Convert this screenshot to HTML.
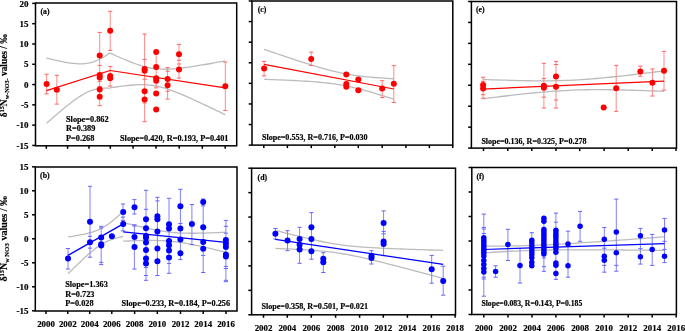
<!DOCTYPE html>
<html><head><meta charset="utf-8"><style>
html,body{margin:0;padding:0;background:#fff;}
body{width:685px;height:331px;overflow:hidden;}
svg{display:block;}
text{font-family:"Liberation Serif", serif;fill:#000;stroke:#000;stroke-width:0.18px;}
svg{will-change:transform;}
</style></head><body>
<svg width="685" height="331" viewBox="0 0 685 331">
<rect width="685" height="331" fill="#fff"/>
<rect x="35.5" y="3.0" width="201.2" height="142.8" fill="none" stroke="#000" stroke-width="1.5"/>
<line x1="32.2" y1="3.4" x2="35.5" y2="3.4" stroke="#000" stroke-width="1.5"/>
<line x1="32.2" y1="23.689999999999998" x2="35.5" y2="23.689999999999998" stroke="#000" stroke-width="1.5"/>
<line x1="32.2" y1="43.98" x2="35.5" y2="43.98" stroke="#000" stroke-width="1.5"/>
<line x1="32.2" y1="64.27" x2="35.5" y2="64.27" stroke="#000" stroke-width="1.5"/>
<line x1="32.2" y1="84.56" x2="35.5" y2="84.56" stroke="#000" stroke-width="1.5"/>
<line x1="32.2" y1="104.85" x2="35.5" y2="104.85" stroke="#000" stroke-width="1.5"/>
<line x1="32.2" y1="125.14" x2="35.5" y2="125.14" stroke="#000" stroke-width="1.5"/>
<line x1="32.2" y1="145.43" x2="35.5" y2="145.43" stroke="#000" stroke-width="1.5"/>
<line x1="46.3" y1="145.8" x2="46.3" y2="148.8" stroke="#000" stroke-width="1.5"/>
<line x1="67.6" y1="145.8" x2="67.6" y2="148.8" stroke="#000" stroke-width="1.5"/>
<line x1="89.0" y1="145.8" x2="89.0" y2="148.8" stroke="#000" stroke-width="1.5"/>
<line x1="110.3" y1="145.8" x2="110.3" y2="148.8" stroke="#000" stroke-width="1.5"/>
<line x1="133.1" y1="145.8" x2="133.1" y2="148.8" stroke="#000" stroke-width="1.5"/>
<line x1="156.0" y1="145.8" x2="156.0" y2="148.8" stroke="#000" stroke-width="1.5"/>
<line x1="179.2" y1="145.8" x2="179.2" y2="148.8" stroke="#000" stroke-width="1.5"/>
<line x1="202.3" y1="145.8" x2="202.3" y2="148.8" stroke="#000" stroke-width="1.5"/>
<line x1="225.2" y1="145.8" x2="225.2" y2="148.8" stroke="#000" stroke-width="1.5"/>
<text x="28.5" y="6.5" font-size="9" text-anchor="end" font-weight="bold" >20</text>
<text x="28.5" y="26.79" font-size="9" text-anchor="end" font-weight="bold" >15</text>
<text x="28.5" y="47.08" font-size="9" text-anchor="end" font-weight="bold" >10</text>
<text x="28.5" y="67.36999999999999" font-size="9" text-anchor="end" font-weight="bold" >5</text>
<text x="28.5" y="87.66" font-size="9" text-anchor="end" font-weight="bold" >0</text>
<text x="28.5" y="107.94999999999999" font-size="9" text-anchor="end" font-weight="bold" >-5</text>
<text x="28.5" y="128.24" font-size="9" text-anchor="end" font-weight="bold" >-10</text>
<text x="28.5" y="148.53" font-size="9" text-anchor="end" font-weight="bold" >-15</text>
<text x="40.5" y="13.9" font-size="7.8" text-anchor="start" font-weight="bold" >(a)</text>
<polyline points="46.50,58.04 48.09,58.44 49.68,58.84 51.27,59.23 52.86,59.61 54.45,59.99 56.04,60.36 57.63,60.71 59.22,61.06 60.81,61.39 62.40,61.71 63.99,62.02 65.58,62.31 67.17,62.58 68.76,62.83 70.35,63.06 71.94,63.27 73.53,63.44 75.12,63.59 76.71,63.70 78.30,63.78 79.89,63.81 81.48,63.80 83.07,63.73 84.66,63.61 86.25,63.43 87.84,63.19 89.43,62.88 91.02,62.50 92.61,62.05 94.20,61.53 95.79,60.93 97.38,60.27 98.97,59.53 100.56,58.73 102.15,57.87 103.74,56.95 105.33,55.98 106.92,54.96 108.51,53.89 110.10,52.79" fill="none" stroke="#bcbcbc" stroke-width="1.3"/>
<polyline points="46.50,123.36 48.09,121.95 49.68,120.54 51.27,119.14 52.86,117.75 54.45,116.36 56.04,114.98 57.63,113.62 59.22,112.26 60.81,110.92 62.40,109.59 63.99,108.27 65.58,106.97 67.17,105.69 68.76,104.43 70.35,103.19 71.94,101.97 73.53,100.79 75.12,99.63 76.71,98.51 78.30,97.42 79.89,96.38 81.48,95.38 83.07,94.44 84.66,93.55 86.25,92.72 87.84,91.95 89.43,91.25 91.02,90.62 92.61,90.06 94.20,89.57 95.79,89.16 97.38,88.81 98.97,88.54 100.56,88.33 102.15,88.18 103.74,88.09 105.33,88.05 106.92,88.06 108.51,88.12 110.10,88.21" fill="none" stroke="#bcbcbc" stroke-width="1.3"/>
<polyline points="110.10,53.11 112.98,54.43 115.86,55.72 118.74,57.00 121.62,58.26 124.50,59.48 127.38,60.68 130.26,61.83 133.14,62.94 136.02,63.99 138.90,64.97 141.78,65.88 144.66,66.70 147.54,67.41 150.42,68.01 153.30,68.49 156.18,68.85 159.06,69.09 161.94,69.22 164.82,69.25 167.70,69.19 170.58,69.06 173.46,68.86 176.34,68.61 179.22,68.31 182.10,67.98 184.98,67.61 187.86,67.22 190.74,66.80 193.62,66.37 196.50,65.91 199.38,65.45 202.26,64.97 205.14,64.49 208.02,63.99 210.90,63.49 213.78,62.97 216.66,62.46 219.54,61.94 222.42,61.41 225.30,60.88" fill="none" stroke="#bcbcbc" stroke-width="1.3"/>
<polyline points="110.10,87.89 112.98,87.44 115.86,87.01 118.74,86.60 121.62,86.21 124.50,85.85 127.38,85.52 130.26,85.23 133.14,84.99 136.02,84.80 138.90,84.68 141.78,84.64 144.66,84.69 147.54,84.84 150.42,85.11 153.30,85.49 156.18,86.00 159.06,86.62 161.94,87.36 164.82,88.20 167.70,89.12 170.58,90.12 173.46,91.18 176.34,92.30 179.22,93.47 182.10,94.67 184.98,95.90 187.86,97.16 190.74,98.44 193.62,99.74 196.50,101.06 199.38,102.39 202.26,103.73 205.14,105.08 208.02,106.45 210.90,107.82 213.78,109.19 216.66,110.58 219.54,111.96 222.42,113.36 225.30,114.75" fill="none" stroke="#bcbcbc" stroke-width="1.3"/>
<line x1="46.6" y1="74.2" x2="46.6" y2="93.9" stroke="#ff8a8a" stroke-width="1.0"/>
<line x1="44.5" y1="74.2" x2="48.7" y2="74.2" stroke="#ff6464" stroke-width="1.0"/>
<line x1="44.5" y1="93.9" x2="48.7" y2="93.9" stroke="#ff6464" stroke-width="1.0"/>
<line x1="56.8" y1="75.3" x2="56.8" y2="104.1" stroke="#ff8a8a" stroke-width="1.0"/>
<line x1="54.699999999999996" y1="75.3" x2="58.9" y2="75.3" stroke="#ff6464" stroke-width="1.0"/>
<line x1="54.699999999999996" y1="104.1" x2="58.9" y2="104.1" stroke="#ff6464" stroke-width="1.0"/>
<line x1="99.7" y1="32.4" x2="99.7" y2="105.6" stroke="#ff8a8a" stroke-width="1.0"/>
<line x1="97.60000000000001" y1="32.4" x2="101.8" y2="32.4" stroke="#ff6464" stroke-width="1.0"/>
<line x1="97.60000000000001" y1="65.4" x2="101.8" y2="65.4" stroke="#ff6464" stroke-width="1.0"/>
<line x1="97.60000000000001" y1="81.3" x2="101.8" y2="81.3" stroke="#ff6464" stroke-width="1.0"/>
<line x1="97.60000000000001" y1="86.5" x2="101.8" y2="86.5" stroke="#ff6464" stroke-width="1.0"/>
<line x1="97.60000000000001" y1="105.7" x2="101.8" y2="105.7" stroke="#ff6464" stroke-width="1.0"/>
<line x1="110.2" y1="11.3" x2="110.2" y2="50.4" stroke="#ff8a8a" stroke-width="1.0"/>
<line x1="110.2" y1="66.4" x2="110.2" y2="86.1" stroke="#ff8a8a" stroke-width="1.0"/>
<line x1="108.10000000000001" y1="11.3" x2="112.3" y2="11.3" stroke="#ff6464" stroke-width="1.0"/>
<line x1="108.10000000000001" y1="50.4" x2="112.3" y2="50.4" stroke="#ff6464" stroke-width="1.0"/>
<line x1="108.10000000000001" y1="66.4" x2="112.3" y2="66.4" stroke="#ff6464" stroke-width="1.0"/>
<line x1="108.10000000000001" y1="86.1" x2="112.3" y2="86.1" stroke="#ff6464" stroke-width="1.0"/>
<line x1="144.6" y1="34.1" x2="144.6" y2="121.7" stroke="#ff8a8a" stroke-width="1.0"/>
<line x1="142.5" y1="34.1" x2="146.7" y2="34.1" stroke="#ff6464" stroke-width="1.0"/>
<line x1="142.5" y1="59.4" x2="146.7" y2="59.4" stroke="#ff6464" stroke-width="1.0"/>
<line x1="142.5" y1="79.2" x2="146.7" y2="79.2" stroke="#ff6464" stroke-width="1.0"/>
<line x1="142.5" y1="103" x2="146.7" y2="103" stroke="#ff6464" stroke-width="1.0"/>
<line x1="142.5" y1="121.7" x2="146.7" y2="121.7" stroke="#ff6464" stroke-width="1.0"/>
<line x1="156.2" y1="52.2" x2="156.2" y2="87.9" stroke="#ff8a8a" stroke-width="1.0"/>
<line x1="154.1" y1="87.9" x2="158.29999999999998" y2="87.9" stroke="#ff6464" stroke-width="1.0"/>
<line x1="167.6" y1="67.6" x2="167.6" y2="99.1" stroke="#ff8a8a" stroke-width="1.0"/>
<line x1="165.5" y1="67.6" x2="169.7" y2="67.6" stroke="#ff6464" stroke-width="1.0"/>
<line x1="165.5" y1="71.2" x2="169.7" y2="71.2" stroke="#ff6464" stroke-width="1.0"/>
<line x1="165.5" y1="91.3" x2="169.7" y2="91.3" stroke="#ff6464" stroke-width="1.0"/>
<line x1="165.5" y1="99.1" x2="169.7" y2="99.1" stroke="#ff6464" stroke-width="1.0"/>
<line x1="179.0" y1="44.4" x2="179.0" y2="78.1" stroke="#ff8a8a" stroke-width="1.0"/>
<line x1="176.9" y1="44.4" x2="181.1" y2="44.4" stroke="#ff6464" stroke-width="1.0"/>
<line x1="176.9" y1="60.3" x2="181.1" y2="60.3" stroke="#ff6464" stroke-width="1.0"/>
<line x1="176.9" y1="64" x2="181.1" y2="64" stroke="#ff6464" stroke-width="1.0"/>
<line x1="176.9" y1="78.1" x2="181.1" y2="78.1" stroke="#ff6464" stroke-width="1.0"/>
<line x1="225.3" y1="62.1" x2="225.3" y2="110.4" stroke="#ff8a8a" stroke-width="1.0"/>
<line x1="223.20000000000002" y1="62.1" x2="227.4" y2="62.1" stroke="#ff6464" stroke-width="1.0"/>
<line x1="223.20000000000002" y1="110.4" x2="227.4" y2="110.4" stroke="#ff6464" stroke-width="1.0"/>
<line x1="46.5" y1="90.7" x2="110.1" y2="70.5" stroke="#ff0000" stroke-width="1.25"/>
<line x1="110.1" y1="70.5" x2="225.2" y2="87.8" stroke="#ff0000" stroke-width="1.25"/>
<circle cx="46.6" cy="84" r="3.0" fill="#ff0000"/>
<circle cx="56.8" cy="89.7" r="3.0" fill="#ff0000"/>
<circle cx="99.7" cy="55.6" r="3.0" fill="#ff0000"/>
<circle cx="99.7" cy="74.9" r="3.0" fill="#ff0000"/>
<circle cx="99.7" cy="77.5" r="3.0" fill="#ff0000"/>
<circle cx="99.7" cy="89.5" r="3.0" fill="#ff0000"/>
<circle cx="99.7" cy="96.8" r="3.0" fill="#ff0000"/>
<circle cx="110.2" cy="30.7" r="3.0" fill="#ff0000"/>
<circle cx="110.2" cy="76.1" r="3.0" fill="#ff0000"/>
<circle cx="110.2" cy="78.2" r="3.0" fill="#ff0000"/>
<circle cx="144.6" cy="69.0" r="3.0" fill="#ff0000"/>
<circle cx="144.6" cy="70.8" r="3.0" fill="#ff0000"/>
<circle cx="144.6" cy="91.3" r="3.0" fill="#ff0000"/>
<circle cx="144.6" cy="99.6" r="3.0" fill="#ff0000"/>
<circle cx="156.2" cy="51.9" r="3.0" fill="#ff0000"/>
<circle cx="156.2" cy="66.9" r="3.0" fill="#ff0000"/>
<circle cx="156.2" cy="78.3" r="3.0" fill="#ff0000"/>
<circle cx="156.2" cy="80.8" r="3.0" fill="#ff0000"/>
<circle cx="156.2" cy="93.6" r="3.0" fill="#ff0000"/>
<circle cx="156.2" cy="109.4" r="3.0" fill="#ff0000"/>
<circle cx="167.6" cy="79" r="3.0" fill="#ff0000"/>
<circle cx="167.6" cy="85.3" r="3.0" fill="#ff0000"/>
<circle cx="179.0" cy="54.3" r="3.0" fill="#ff0000"/>
<circle cx="179.0" cy="69.4" r="3.0" fill="#ff0000"/>
<circle cx="225.3" cy="86.2" r="3.0" fill="#ff0000"/>
<text x="66.0" y="121.7" font-size="8.27" text-anchor="start" font-weight="bold" >Slope=0.862</text>
<text x="66.0" y="131.3" font-size="8.27" text-anchor="start" font-weight="bold" >R=0.389</text>
<text x="66.0" y="141.0" font-size="8.27" text-anchor="start" font-weight="bold" >P=0.268</text>
<text x="120.0" y="141.1" font-size="8.27" text-anchor="start" font-weight="bold" >Slope=0.420, R=0.193, P=0.401</text>
<rect x="35.3" y="167.0" width="201.7" height="144.0" fill="none" stroke="#000" stroke-width="1.5"/>
<line x1="31.999999999999996" y1="166.8" x2="35.3" y2="166.8" stroke="#000" stroke-width="1.5"/>
<line x1="31.999999999999996" y1="190.8" x2="35.3" y2="190.8" stroke="#000" stroke-width="1.5"/>
<line x1="31.999999999999996" y1="214.8" x2="35.3" y2="214.8" stroke="#000" stroke-width="1.5"/>
<line x1="31.999999999999996" y1="238.8" x2="35.3" y2="238.8" stroke="#000" stroke-width="1.5"/>
<line x1="31.999999999999996" y1="262.8" x2="35.3" y2="262.8" stroke="#000" stroke-width="1.5"/>
<line x1="31.999999999999996" y1="286.8" x2="35.3" y2="286.8" stroke="#000" stroke-width="1.5"/>
<line x1="31.999999999999996" y1="310.8" x2="35.3" y2="310.8" stroke="#000" stroke-width="1.5"/>
<line x1="46.0" y1="311.0" x2="46.0" y2="314.0" stroke="#000" stroke-width="1.5"/>
<line x1="67.8" y1="311.0" x2="67.8" y2="314.0" stroke="#000" stroke-width="1.5"/>
<line x1="89.7" y1="311.0" x2="89.7" y2="314.0" stroke="#000" stroke-width="1.5"/>
<line x1="111.8" y1="311.0" x2="111.8" y2="314.0" stroke="#000" stroke-width="1.5"/>
<line x1="134.6" y1="311.0" x2="134.6" y2="314.0" stroke="#000" stroke-width="1.5"/>
<line x1="157.3" y1="311.0" x2="157.3" y2="314.0" stroke="#000" stroke-width="1.5"/>
<line x1="180.5" y1="311.0" x2="180.5" y2="314.0" stroke="#000" stroke-width="1.5"/>
<line x1="203.2" y1="311.0" x2="203.2" y2="314.0" stroke="#000" stroke-width="1.5"/>
<line x1="226.0" y1="311.0" x2="226.0" y2="314.0" stroke="#000" stroke-width="1.5"/>
<text x="28.5" y="169.9" font-size="9" text-anchor="end" font-weight="bold" >15</text>
<text x="28.5" y="193.9" font-size="9" text-anchor="end" font-weight="bold" >10</text>
<text x="28.5" y="217.9" font-size="9" text-anchor="end" font-weight="bold" >5</text>
<text x="28.5" y="241.9" font-size="9" text-anchor="end" font-weight="bold" >0</text>
<text x="28.5" y="265.90000000000003" font-size="9" text-anchor="end" font-weight="bold" >-5</text>
<text x="28.5" y="289.90000000000003" font-size="9" text-anchor="end" font-weight="bold" >-10</text>
<text x="28.5" y="313.90000000000003" font-size="9" text-anchor="end" font-weight="bold" >-15</text>
<text x="46.0" y="326.6" font-size="8.9" text-anchor="middle" font-weight="bold" >2000</text>
<text x="67.8" y="326.6" font-size="8.9" text-anchor="middle" font-weight="bold" >2002</text>
<text x="89.7" y="326.6" font-size="8.9" text-anchor="middle" font-weight="bold" >2004</text>
<text x="111.8" y="326.6" font-size="8.9" text-anchor="middle" font-weight="bold" >2006</text>
<text x="134.6" y="326.6" font-size="8.9" text-anchor="middle" font-weight="bold" >2008</text>
<text x="157.3" y="326.6" font-size="8.9" text-anchor="middle" font-weight="bold" >2010</text>
<text x="180.5" y="326.6" font-size="8.9" text-anchor="middle" font-weight="bold" >2012</text>
<text x="203.2" y="326.6" font-size="8.9" text-anchor="middle" font-weight="bold" >2014</text>
<text x="226.0" y="326.6" font-size="8.9" text-anchor="middle" font-weight="bold" >2016</text>
<text x="40.0" y="178.3" font-size="7.9" text-anchor="start" font-weight="bold" >(b)</text>
<polyline points="68.00,236.92 69.38,236.73 70.76,236.53 72.14,236.32 73.52,236.11 74.90,235.89 76.28,235.66 77.66,235.43 79.04,235.18 80.42,234.93 81.80,234.67 83.18,234.39 84.56,234.09 85.94,233.78 87.32,233.45 88.70,233.10 90.08,232.73 91.46,232.33 92.84,231.90 94.22,231.43 95.60,230.92 96.98,230.38 98.36,229.79 99.74,229.15 101.12,228.46 102.50,227.71 103.88,226.91 105.26,226.06 106.64,225.15 108.02,224.20 109.40,223.19 110.78,222.15 112.16,221.06 113.54,219.94 114.92,218.78 116.30,217.60 117.68,216.39 119.06,215.15 120.44,213.90 121.82,212.62 123.20,211.34" fill="none" stroke="#bcbcbc" stroke-width="1.3"/>
<polyline points="68.00,273.88 69.38,272.50 70.76,271.12 72.14,269.75 73.52,268.39 74.90,267.04 76.28,265.69 77.66,264.35 79.04,263.02 80.42,261.69 81.80,260.38 83.18,259.09 84.56,257.81 85.94,256.54 87.32,255.30 88.70,254.07 90.08,252.87 91.46,251.70 92.84,250.55 94.22,249.45 95.60,248.38 96.98,247.35 98.36,246.36 99.74,245.43 101.12,244.54 102.50,243.71 103.88,242.94 105.26,242.22 106.64,241.55 108.02,240.93 109.40,240.36 110.78,239.83 112.16,239.34 113.54,238.89 114.92,238.47 116.30,238.08 117.68,237.71 119.06,237.37 120.44,237.05 121.82,236.75 123.20,236.46" fill="none" stroke="#bcbcbc" stroke-width="1.3"/>
<polyline points="123.20,222.58 125.77,223.21 128.34,223.84 130.90,224.46 133.47,225.08 136.04,225.69 138.61,226.29 141.17,226.87 143.74,227.45 146.31,228.02 148.88,228.57 151.44,229.10 154.01,229.61 156.58,230.09 159.15,230.55 161.71,230.98 164.28,231.38 166.85,231.74 169.42,232.06 171.98,232.34 174.55,232.58 177.12,232.78 179.69,232.94 182.25,233.06 184.82,233.15 187.39,233.22 189.96,233.25 192.52,233.26 195.09,233.25 197.66,233.22 200.23,233.18 202.79,233.12 205.36,233.05 207.93,232.97 210.50,232.88 213.06,232.79 215.63,232.68 218.20,232.58 220.76,232.46 223.33,232.34 225.90,232.22" fill="none" stroke="#bcbcbc" stroke-width="1.3"/>
<polyline points="123.20,241.22 125.77,241.11 128.34,241.00 130.90,240.90 133.47,240.80 136.04,240.71 138.61,240.63 141.17,240.57 143.74,240.51 146.31,240.46 148.88,240.43 151.44,240.42 154.01,240.43 156.58,240.47 159.15,240.53 161.71,240.62 164.28,240.74 166.85,240.90 169.42,241.10 171.98,241.34 174.55,241.62 177.12,241.94 179.69,242.30 182.25,242.70 184.82,243.13 187.39,243.58 189.96,244.07 192.52,244.58 195.09,245.11 197.66,245.66 200.23,246.22 202.79,246.80 205.36,247.39 207.93,247.99 210.50,248.60 213.06,249.21 215.63,249.84 218.20,250.46 220.76,251.10 223.33,251.74 225.90,252.38" fill="none" stroke="#bcbcbc" stroke-width="1.3"/>
<line x1="68" y1="248.5" x2="68" y2="269" stroke="#8080ff" stroke-width="1.0"/>
<line x1="65.9" y1="248.5" x2="70.1" y2="248.5" stroke="#6464ff" stroke-width="1.0"/>
<line x1="65.9" y1="269" x2="70.1" y2="269" stroke="#6464ff" stroke-width="1.0"/>
<line x1="90.0" y1="186.3" x2="90.0" y2="257.2" stroke="#8080ff" stroke-width="1.0"/>
<line x1="87.9" y1="186.3" x2="92.1" y2="186.3" stroke="#6464ff" stroke-width="1.0"/>
<line x1="87.9" y1="236.3" x2="92.1" y2="236.3" stroke="#6464ff" stroke-width="1.0"/>
<line x1="87.9" y1="248.1" x2="92.1" y2="248.1" stroke="#6464ff" stroke-width="1.0"/>
<line x1="87.9" y1="257.2" x2="92.1" y2="257.2" stroke="#6464ff" stroke-width="1.0"/>
<line x1="101.2" y1="226.3" x2="101.2" y2="264.6" stroke="#8080ff" stroke-width="1.0"/>
<line x1="99.10000000000001" y1="226.3" x2="103.3" y2="226.3" stroke="#6464ff" stroke-width="1.0"/>
<line x1="99.10000000000001" y1="228" x2="103.3" y2="228" stroke="#6464ff" stroke-width="1.0"/>
<line x1="99.10000000000001" y1="262.3" x2="103.3" y2="262.3" stroke="#6464ff" stroke-width="1.0"/>
<line x1="99.10000000000001" y1="264.6" x2="103.3" y2="264.6" stroke="#6464ff" stroke-width="1.0"/>
<line x1="123.0" y1="204.0" x2="123.0" y2="230.9" stroke="#8080ff" stroke-width="1.0"/>
<line x1="120.9" y1="204.0" x2="125.1" y2="204.0" stroke="#6464ff" stroke-width="1.0"/>
<line x1="120.9" y1="217.1" x2="125.1" y2="217.1" stroke="#6464ff" stroke-width="1.0"/>
<line x1="120.9" y1="220.4" x2="125.1" y2="220.4" stroke="#6464ff" stroke-width="1.0"/>
<line x1="120.9" y1="230.9" x2="125.1" y2="230.9" stroke="#6464ff" stroke-width="1.0"/>
<line x1="134.4" y1="199.6" x2="134.4" y2="214.0" stroke="#8080ff" stroke-width="1.0"/>
<line x1="134.4" y1="224.8" x2="134.4" y2="269.1" stroke="#8080ff" stroke-width="1.0"/>
<line x1="132.3" y1="199.6" x2="136.5" y2="199.6" stroke="#6464ff" stroke-width="1.0"/>
<line x1="132.3" y1="214.0" x2="136.5" y2="214.0" stroke="#6464ff" stroke-width="1.0"/>
<line x1="132.3" y1="224.8" x2="136.5" y2="224.8" stroke="#6464ff" stroke-width="1.0"/>
<line x1="132.3" y1="226.0" x2="136.5" y2="226.0" stroke="#6464ff" stroke-width="1.0"/>
<line x1="132.3" y1="269.1" x2="136.5" y2="269.1" stroke="#6464ff" stroke-width="1.0"/>
<line x1="146.0" y1="190.3" x2="146.0" y2="280.3" stroke="#8080ff" stroke-width="1.0"/>
<line x1="143.9" y1="190.3" x2="148.1" y2="190.3" stroke="#6464ff" stroke-width="1.0"/>
<line x1="143.9" y1="209.3" x2="148.1" y2="209.3" stroke="#6464ff" stroke-width="1.0"/>
<line x1="143.9" y1="267.6" x2="148.1" y2="267.6" stroke="#6464ff" stroke-width="1.0"/>
<line x1="143.9" y1="275.5" x2="148.1" y2="275.5" stroke="#6464ff" stroke-width="1.0"/>
<line x1="143.9" y1="280.3" x2="148.1" y2="280.3" stroke="#6464ff" stroke-width="1.0"/>
<line x1="157.4" y1="197.3" x2="157.4" y2="275.5" stroke="#8080ff" stroke-width="1.0"/>
<line x1="155.3" y1="197.3" x2="159.5" y2="197.3" stroke="#6464ff" stroke-width="1.0"/>
<line x1="155.3" y1="200.9" x2="159.5" y2="200.9" stroke="#6464ff" stroke-width="1.0"/>
<line x1="155.3" y1="275.5" x2="159.5" y2="275.5" stroke="#6464ff" stroke-width="1.0"/>
<line x1="169.0" y1="198.3" x2="169.0" y2="273.3" stroke="#8080ff" stroke-width="1.0"/>
<line x1="166.9" y1="198.3" x2="171.1" y2="198.3" stroke="#6464ff" stroke-width="1.0"/>
<line x1="166.9" y1="263.4" x2="171.1" y2="263.4" stroke="#6464ff" stroke-width="1.0"/>
<line x1="166.9" y1="273.3" x2="171.1" y2="273.3" stroke="#6464ff" stroke-width="1.0"/>
<line x1="180.4" y1="189.3" x2="180.4" y2="259.6" stroke="#8080ff" stroke-width="1.0"/>
<line x1="178.3" y1="189.3" x2="182.5" y2="189.3" stroke="#6464ff" stroke-width="1.0"/>
<line x1="178.3" y1="223.5" x2="182.5" y2="223.5" stroke="#6464ff" stroke-width="1.0"/>
<line x1="178.3" y1="259.6" x2="182.5" y2="259.6" stroke="#6464ff" stroke-width="1.0"/>
<line x1="191.9" y1="204.5" x2="191.9" y2="244.6" stroke="#8080ff" stroke-width="1.0"/>
<line x1="189.8" y1="204.5" x2="194.0" y2="204.5" stroke="#6464ff" stroke-width="1.0"/>
<line x1="189.8" y1="244.6" x2="194.0" y2="244.6" stroke="#6464ff" stroke-width="1.0"/>
<line x1="203.2" y1="199.0" x2="203.2" y2="272.5" stroke="#8080ff" stroke-width="1.0"/>
<line x1="201.1" y1="199.0" x2="205.29999999999998" y2="199.0" stroke="#6464ff" stroke-width="1.0"/>
<line x1="201.1" y1="205.9" x2="205.29999999999998" y2="205.9" stroke="#6464ff" stroke-width="1.0"/>
<line x1="201.1" y1="255.4" x2="205.29999999999998" y2="255.4" stroke="#6464ff" stroke-width="1.0"/>
<line x1="201.1" y1="272.5" x2="205.29999999999998" y2="272.5" stroke="#6464ff" stroke-width="1.0"/>
<line x1="225.9" y1="220.4" x2="225.9" y2="281.7" stroke="#8080ff" stroke-width="1.0"/>
<line x1="223.8" y1="220.4" x2="228.0" y2="220.4" stroke="#6464ff" stroke-width="1.0"/>
<line x1="223.8" y1="226.3" x2="228.0" y2="226.3" stroke="#6464ff" stroke-width="1.0"/>
<line x1="223.8" y1="233.2" x2="228.0" y2="233.2" stroke="#6464ff" stroke-width="1.0"/>
<line x1="223.8" y1="266.4" x2="228.0" y2="266.4" stroke="#6464ff" stroke-width="1.0"/>
<line x1="223.8" y1="268.5" x2="228.0" y2="268.5" stroke="#6464ff" stroke-width="1.0"/>
<line x1="223.8" y1="280.3" x2="228.0" y2="280.3" stroke="#6464ff" stroke-width="1.0"/>
<line x1="223.8" y1="281.7" x2="228.0" y2="281.7" stroke="#6464ff" stroke-width="1.0"/>
<line x1="68" y1="255.4" x2="123.2" y2="223.9" stroke="#0000ff" stroke-width="1.25"/>
<line x1="123.2" y1="231.9" x2="225.9" y2="242.3" stroke="#0000ff" stroke-width="1.25"/>
<circle cx="68" cy="258.6" r="3.0" fill="#0000ff"/>
<circle cx="90.0" cy="221.7" r="3.0" fill="#0000ff"/>
<circle cx="90.0" cy="242.3" r="3.0" fill="#0000ff"/>
<circle cx="101.2" cy="237.5" r="3.0" fill="#0000ff"/>
<circle cx="101.2" cy="244.3" r="3.0" fill="#0000ff"/>
<circle cx="101.2" cy="245.5" r="3.0" fill="#0000ff"/>
<circle cx="111.9" cy="236.2" r="3.0" fill="#0000ff"/>
<circle cx="123.2" cy="211.9" r="3.0" fill="#0000ff"/>
<circle cx="123.2" cy="223.9" r="3.0" fill="#0000ff"/>
<circle cx="134.5" cy="207.2" r="3.0" fill="#0000ff"/>
<circle cx="134.5" cy="237" r="3.0" fill="#0000ff"/>
<circle cx="134.5" cy="247" r="3.0" fill="#0000ff"/>
<circle cx="146.0" cy="219.2" r="3.0" fill="#0000ff"/>
<circle cx="146.0" cy="228.3" r="3.0" fill="#0000ff"/>
<circle cx="146.0" cy="236" r="3.0" fill="#0000ff"/>
<circle cx="146.0" cy="237.8" r="3.0" fill="#0000ff"/>
<circle cx="146.0" cy="242.5" r="3.0" fill="#0000ff"/>
<circle cx="146.0" cy="250" r="3.0" fill="#0000ff"/>
<circle cx="146.0" cy="258.5" r="3.0" fill="#0000ff"/>
<circle cx="146.0" cy="263.4" r="3.0" fill="#0000ff"/>
<circle cx="157.4" cy="216.3" r="3.0" fill="#0000ff"/>
<circle cx="157.4" cy="219.2" r="3.0" fill="#0000ff"/>
<circle cx="157.4" cy="231.5" r="3.0" fill="#0000ff"/>
<circle cx="157.4" cy="248.4" r="3.0" fill="#0000ff"/>
<circle cx="157.4" cy="261.3" r="3.0" fill="#0000ff"/>
<circle cx="169.0" cy="224.3" r="3.0" fill="#0000ff"/>
<circle cx="169.0" cy="228.4" r="3.0" fill="#0000ff"/>
<circle cx="169.0" cy="241" r="3.0" fill="#0000ff"/>
<circle cx="169.0" cy="245.2" r="3.0" fill="#0000ff"/>
<circle cx="169.0" cy="250.6" r="3.0" fill="#0000ff"/>
<circle cx="169.0" cy="257.5" r="3.0" fill="#0000ff"/>
<circle cx="180.4" cy="206.2" r="3.0" fill="#0000ff"/>
<circle cx="180.4" cy="228.4" r="3.0" fill="#0000ff"/>
<circle cx="180.4" cy="239.6" r="3.0" fill="#0000ff"/>
<circle cx="180.4" cy="253.3" r="3.0" fill="#0000ff"/>
<circle cx="191.9" cy="224.1" r="3.0" fill="#0000ff"/>
<circle cx="203.2" cy="201.9" r="3.0" fill="#0000ff"/>
<circle cx="203.2" cy="227.3" r="3.0" fill="#0000ff"/>
<circle cx="203.2" cy="242.1" r="3.0" fill="#0000ff"/>
<circle cx="203.2" cy="248.8" r="3.0" fill="#0000ff"/>
<circle cx="225.9" cy="240.1" r="3.0" fill="#0000ff"/>
<circle cx="225.9" cy="243.5" r="3.0" fill="#0000ff"/>
<circle cx="225.9" cy="247" r="3.0" fill="#0000ff"/>
<circle cx="225.9" cy="254.5" r="3.0" fill="#0000ff"/>
<circle cx="225.9" cy="256.4" r="3.0" fill="#0000ff"/>
<text x="65.2" y="286.8" font-size="8.27" text-anchor="start" font-weight="bold" >Slope=1.363</text>
<text x="65.2" y="296.5" font-size="8.27" text-anchor="start" font-weight="bold" >R=0.723</text>
<text x="65.2" y="306.4" font-size="8.27" text-anchor="start" font-weight="bold" >P=0.028</text>
<text x="121.6" y="306.4" font-size="8.27" text-anchor="start" font-weight="bold" >Slope=0.233, R=0.184, P=0.256</text>
<rect x="252.0" y="1.0" width="200.8" height="144.1" fill="none" stroke="#000" stroke-width="1.5"/>
<line x1="248.7" y1="1.0" x2="252.0" y2="1.0" stroke="#000" stroke-width="1.5"/>
<line x1="248.7" y1="21.59" x2="252.0" y2="21.59" stroke="#000" stroke-width="1.5"/>
<line x1="248.7" y1="42.18" x2="252.0" y2="42.18" stroke="#000" stroke-width="1.5"/>
<line x1="248.7" y1="62.769999999999996" x2="252.0" y2="62.769999999999996" stroke="#000" stroke-width="1.5"/>
<line x1="248.7" y1="83.36" x2="252.0" y2="83.36" stroke="#000" stroke-width="1.5"/>
<line x1="248.7" y1="103.95" x2="252.0" y2="103.95" stroke="#000" stroke-width="1.5"/>
<line x1="248.7" y1="124.53999999999999" x2="252.0" y2="124.53999999999999" stroke="#000" stroke-width="1.5"/>
<line x1="248.7" y1="145.13" x2="252.0" y2="145.13" stroke="#000" stroke-width="1.5"/>
<line x1="263.8" y1="145.1" x2="263.8" y2="148.1" stroke="#000" stroke-width="1.5"/>
<line x1="287.4" y1="145.1" x2="287.4" y2="148.1" stroke="#000" stroke-width="1.5"/>
<line x1="311.3" y1="145.1" x2="311.3" y2="148.1" stroke="#000" stroke-width="1.5"/>
<line x1="334.8" y1="145.1" x2="334.8" y2="148.1" stroke="#000" stroke-width="1.5"/>
<line x1="358.3" y1="145.1" x2="358.3" y2="148.1" stroke="#000" stroke-width="1.5"/>
<line x1="382.2" y1="145.1" x2="382.2" y2="148.1" stroke="#000" stroke-width="1.5"/>
<line x1="405.9" y1="145.1" x2="405.9" y2="148.1" stroke="#000" stroke-width="1.5"/>
<line x1="429.4" y1="145.1" x2="429.4" y2="148.1" stroke="#000" stroke-width="1.5"/>
<line x1="452.7" y1="145.1" x2="452.7" y2="148.1" stroke="#000" stroke-width="1.5"/>
<text x="257.7" y="11.8" font-size="7.8" text-anchor="start" font-weight="bold" >(c)</text>
<polyline points="264.10,49.27 267.34,50.40 270.59,51.51 273.83,52.63 277.07,53.74 280.31,54.84 283.56,55.94 286.80,57.04 290.04,58.12 293.28,59.20 296.53,60.27 299.77,61.33 303.01,62.38 306.25,63.41 309.50,64.43 312.74,65.43 315.98,66.41 319.22,67.36 322.47,68.29 325.71,69.19 328.95,70.06 332.19,70.88 335.44,71.67 338.68,72.41 341.92,73.10 345.16,73.74 348.41,74.33 351.65,74.87 354.89,75.36 358.13,75.80 361.38,76.21 364.62,76.58 367.86,76.91 371.10,77.21 374.35,77.49 377.59,77.74 380.83,77.97 384.07,78.19 387.31,78.39 390.56,78.57 393.80,78.75" fill="none" stroke="#bcbcbc" stroke-width="1.3"/>
<polyline points="264.10,79.33 267.34,79.44 270.59,79.56 273.83,79.68 277.07,79.80 280.31,79.93 283.56,80.07 286.80,80.21 290.04,80.36 293.28,80.51 296.53,80.68 299.77,80.86 303.01,81.04 306.25,81.25 309.50,81.46 312.74,81.70 315.98,81.95 319.22,82.23 322.47,82.54 325.71,82.87 328.95,83.24 332.19,83.65 335.44,84.10 338.68,84.60 341.92,85.14 345.16,85.74 348.41,86.38 351.65,87.08 354.89,87.82 358.13,88.61 361.38,89.44 364.62,90.31 367.86,91.21 371.10,92.14 374.35,93.10 377.59,94.09 380.83,95.09 384.07,96.11 387.31,97.14 390.56,98.19 393.80,99.25" fill="none" stroke="#bcbcbc" stroke-width="1.3"/>
<line x1="264.1" y1="61.4" x2="264.1" y2="75.9" stroke="#ff8a8a" stroke-width="1.0"/>
<line x1="262.0" y1="61.4" x2="266.20000000000005" y2="61.4" stroke="#ff6464" stroke-width="1.0"/>
<line x1="262.0" y1="75.9" x2="266.20000000000005" y2="75.9" stroke="#ff6464" stroke-width="1.0"/>
<line x1="311.2" y1="52.2" x2="311.2" y2="65.5" stroke="#ff8a8a" stroke-width="1.0"/>
<line x1="309.09999999999997" y1="52.2" x2="313.3" y2="52.2" stroke="#ff6464" stroke-width="1.0"/>
<line x1="309.09999999999997" y1="65.5" x2="313.3" y2="65.5" stroke="#ff6464" stroke-width="1.0"/>
<line x1="382.2" y1="80.7" x2="382.2" y2="97.6" stroke="#ff8a8a" stroke-width="1.0"/>
<line x1="380.09999999999997" y1="80.7" x2="384.3" y2="80.7" stroke="#ff6464" stroke-width="1.0"/>
<line x1="380.09999999999997" y1="97.6" x2="384.3" y2="97.6" stroke="#ff6464" stroke-width="1.0"/>
<line x1="393.8" y1="65.7" x2="393.8" y2="102.4" stroke="#ff8a8a" stroke-width="1.0"/>
<line x1="391.7" y1="65.7" x2="395.90000000000003" y2="65.7" stroke="#ff6464" stroke-width="1.0"/>
<line x1="391.7" y1="102.4" x2="395.90000000000003" y2="102.4" stroke="#ff6464" stroke-width="1.0"/>
<line x1="264.1" y1="64.3" x2="393.8" y2="89.0" stroke="#ff0000" stroke-width="1.25"/>
<circle cx="264.1" cy="68.6" r="3.0" fill="#ff0000"/>
<circle cx="311.2" cy="59.0" r="3.0" fill="#ff0000"/>
<circle cx="346.3" cy="74.6" r="3.0" fill="#ff0000"/>
<circle cx="346.3" cy="84.0" r="3.0" fill="#ff0000"/>
<circle cx="346.3" cy="86.7" r="3.0" fill="#ff0000"/>
<circle cx="358.3" cy="79.5" r="3.0" fill="#ff0000"/>
<circle cx="358.3" cy="90.3" r="3.0" fill="#ff0000"/>
<circle cx="382.2" cy="88.6" r="3.0" fill="#ff0000"/>
<circle cx="393.8" cy="83.8" r="3.0" fill="#ff0000"/>
<text x="262.0" y="139.9" font-size="8.05" text-anchor="start" font-weight="bold" >Slope=0.553, R=0.716, P=0.030</text>
<rect x="251.6" y="168.2" width="203.9" height="146.60000000000002" fill="none" stroke="#000" stroke-width="1.5"/>
<line x1="248.29999999999998" y1="168.2" x2="251.6" y2="168.2" stroke="#000" stroke-width="1.5"/>
<line x1="248.29999999999998" y1="192.63" x2="251.6" y2="192.63" stroke="#000" stroke-width="1.5"/>
<line x1="248.29999999999998" y1="217.06" x2="251.6" y2="217.06" stroke="#000" stroke-width="1.5"/>
<line x1="248.29999999999998" y1="241.48999999999998" x2="251.6" y2="241.48999999999998" stroke="#000" stroke-width="1.5"/>
<line x1="248.29999999999998" y1="265.91999999999996" x2="251.6" y2="265.91999999999996" stroke="#000" stroke-width="1.5"/>
<line x1="248.29999999999998" y1="290.35" x2="251.6" y2="290.35" stroke="#000" stroke-width="1.5"/>
<line x1="248.29999999999998" y1="314.78" x2="251.6" y2="314.78" stroke="#000" stroke-width="1.5"/>
<line x1="263.5" y1="314.8" x2="263.5" y2="317.8" stroke="#000" stroke-width="1.5"/>
<line x1="287.3" y1="314.8" x2="287.3" y2="317.8" stroke="#000" stroke-width="1.5"/>
<line x1="311.3" y1="314.8" x2="311.3" y2="317.8" stroke="#000" stroke-width="1.5"/>
<line x1="335.6" y1="314.8" x2="335.6" y2="317.8" stroke="#000" stroke-width="1.5"/>
<line x1="359.6" y1="314.8" x2="359.6" y2="317.8" stroke="#000" stroke-width="1.5"/>
<line x1="383.3" y1="314.8" x2="383.3" y2="317.8" stroke="#000" stroke-width="1.5"/>
<line x1="407.4" y1="314.8" x2="407.4" y2="317.8" stroke="#000" stroke-width="1.5"/>
<line x1="431.4" y1="314.8" x2="431.4" y2="317.8" stroke="#000" stroke-width="1.5"/>
<line x1="455.1" y1="314.8" x2="455.1" y2="317.8" stroke="#000" stroke-width="1.5"/>
<text x="263.5" y="331.3" font-size="8.9" text-anchor="middle" font-weight="bold" >2002</text>
<text x="287.3" y="331.3" font-size="8.9" text-anchor="middle" font-weight="bold" >2004</text>
<text x="311.3" y="331.3" font-size="8.9" text-anchor="middle" font-weight="bold" >2006</text>
<text x="335.6" y="331.3" font-size="8.9" text-anchor="middle" font-weight="bold" >2008</text>
<text x="359.6" y="331.3" font-size="8.9" text-anchor="middle" font-weight="bold" >2010</text>
<text x="383.3" y="331.3" font-size="8.9" text-anchor="middle" font-weight="bold" >2012</text>
<text x="407.4" y="331.3" font-size="8.9" text-anchor="middle" font-weight="bold" >2014</text>
<text x="431.4" y="331.3" font-size="8.9" text-anchor="middle" font-weight="bold" >2016</text>
<text x="455.1" y="331.3" font-size="8.9" text-anchor="middle" font-weight="bold" >2018</text>
<text x="257.6" y="179.5" font-size="7.8" text-anchor="start" font-weight="bold" >(d)</text>
<polyline points="275.40,230.35 279.59,231.44 283.79,232.52 287.98,233.59 292.18,234.65 296.38,235.70 300.57,236.73 304.76,237.74 308.96,238.73 313.15,239.69 317.35,240.61 321.54,241.49 325.74,242.33 329.94,243.10 334.13,243.82 338.32,244.47 342.52,245.06 346.71,245.58 350.91,246.05 355.11,246.46 359.30,246.82 363.50,247.14 367.69,247.43 371.88,247.68 376.08,247.92 380.27,248.14 384.47,248.34 388.66,248.52 392.86,248.70 397.06,248.87 401.25,249.02 405.44,249.17 409.64,249.32 413.83,249.46 418.03,249.59 422.22,249.72 426.42,249.85 430.62,249.98 434.81,250.10 439.00,250.22 443.20,250.34" fill="none" stroke="#bcbcbc" stroke-width="1.3"/>
<polyline points="275.40,248.45 279.59,248.61 283.79,248.78 287.98,248.96 292.18,249.15 296.38,249.35 300.57,249.57 304.76,249.81 308.96,250.07 313.15,250.36 317.35,250.69 321.54,251.06 325.74,251.47 329.94,251.95 334.13,252.48 338.32,253.08 342.52,253.74 346.71,254.47 350.91,255.25 355.11,256.09 359.30,256.98 363.50,257.91 367.69,258.87 371.88,259.87 376.08,260.88 380.27,261.91 384.47,262.96 388.66,264.03 392.86,265.10 397.06,266.18 401.25,267.28 405.44,268.38 409.64,269.48 413.83,270.59 418.03,271.71 422.22,272.83 426.42,273.95 430.62,275.07 434.81,276.20 439.00,277.33 443.20,278.46" fill="none" stroke="#bcbcbc" stroke-width="1.3"/>
<line x1="275.4" y1="228.5" x2="275.4" y2="239.1" stroke="#8080ff" stroke-width="1.0"/>
<line x1="273.29999999999995" y1="228.5" x2="277.5" y2="228.5" stroke="#6464ff" stroke-width="1.0"/>
<line x1="273.29999999999995" y1="239.1" x2="277.5" y2="239.1" stroke="#6464ff" stroke-width="1.0"/>
<line x1="287.5" y1="230.7" x2="287.5" y2="250.7" stroke="#8080ff" stroke-width="1.0"/>
<line x1="285.4" y1="230.7" x2="289.6" y2="230.7" stroke="#6464ff" stroke-width="1.0"/>
<line x1="285.4" y1="250.7" x2="289.6" y2="250.7" stroke="#6464ff" stroke-width="1.0"/>
<line x1="299.6" y1="227.3" x2="299.6" y2="263.3" stroke="#8080ff" stroke-width="1.0"/>
<line x1="297.5" y1="227.3" x2="301.70000000000005" y2="227.3" stroke="#6464ff" stroke-width="1.0"/>
<line x1="297.5" y1="263.3" x2="301.70000000000005" y2="263.3" stroke="#6464ff" stroke-width="1.0"/>
<line x1="311.4" y1="212.6" x2="311.4" y2="259.2" stroke="#8080ff" stroke-width="1.0"/>
<line x1="309.29999999999995" y1="212.6" x2="313.5" y2="212.6" stroke="#6464ff" stroke-width="1.0"/>
<line x1="309.29999999999995" y1="259.2" x2="313.5" y2="259.2" stroke="#6464ff" stroke-width="1.0"/>
<line x1="323.3" y1="252.7" x2="323.3" y2="272.5" stroke="#8080ff" stroke-width="1.0"/>
<line x1="321.2" y1="252.7" x2="325.40000000000003" y2="252.7" stroke="#6464ff" stroke-width="1.0"/>
<line x1="321.2" y1="272.5" x2="325.40000000000003" y2="272.5" stroke="#6464ff" stroke-width="1.0"/>
<line x1="371.5" y1="250.7" x2="371.5" y2="264.0" stroke="#8080ff" stroke-width="1.0"/>
<line x1="369.4" y1="250.7" x2="373.6" y2="250.7" stroke="#6464ff" stroke-width="1.0"/>
<line x1="369.4" y1="264.0" x2="373.6" y2="264.0" stroke="#6464ff" stroke-width="1.0"/>
<line x1="383.6" y1="210.9" x2="383.6" y2="255.6" stroke="#8080ff" stroke-width="1.0"/>
<line x1="381.5" y1="210.9" x2="385.70000000000005" y2="210.9" stroke="#6464ff" stroke-width="1.0"/>
<line x1="381.5" y1="231.4" x2="385.70000000000005" y2="231.4" stroke="#6464ff" stroke-width="1.0"/>
<line x1="381.5" y1="233.8" x2="385.70000000000005" y2="233.8" stroke="#6464ff" stroke-width="1.0"/>
<line x1="381.5" y1="255.6" x2="385.70000000000005" y2="255.6" stroke="#6464ff" stroke-width="1.0"/>
<line x1="431.7" y1="255.4" x2="431.7" y2="283.2" stroke="#8080ff" stroke-width="1.0"/>
<line x1="429.59999999999997" y1="255.4" x2="433.8" y2="255.4" stroke="#6464ff" stroke-width="1.0"/>
<line x1="429.59999999999997" y1="283.2" x2="433.8" y2="283.2" stroke="#6464ff" stroke-width="1.0"/>
<line x1="443.2" y1="266.2" x2="443.2" y2="295.2" stroke="#8080ff" stroke-width="1.0"/>
<line x1="441.09999999999997" y1="266.2" x2="445.3" y2="266.2" stroke="#6464ff" stroke-width="1.0"/>
<line x1="441.09999999999997" y1="295.2" x2="445.3" y2="295.2" stroke="#6464ff" stroke-width="1.0"/>
<line x1="275.4" y1="239.4" x2="443.2" y2="264.4" stroke="#0000ff" stroke-width="1.25"/>
<circle cx="275.4" cy="233.8" r="3.0" fill="#0000ff"/>
<circle cx="287.5" cy="240.6" r="3.0" fill="#0000ff"/>
<circle cx="299.6" cy="239.1" r="3.0" fill="#0000ff"/>
<circle cx="299.6" cy="244.7" r="3.0" fill="#0000ff"/>
<circle cx="299.6" cy="249.5" r="3.0" fill="#0000ff"/>
<circle cx="311.4" cy="227.3" r="3.0" fill="#0000ff"/>
<circle cx="311.4" cy="239.1" r="3.0" fill="#0000ff"/>
<circle cx="311.4" cy="251.2" r="3.0" fill="#0000ff"/>
<circle cx="323.3" cy="258.7" r="3.0" fill="#0000ff"/>
<circle cx="323.3" cy="262.3" r="3.0" fill="#0000ff"/>
<circle cx="371.5" cy="256.0" r="3.0" fill="#0000ff"/>
<circle cx="371.5" cy="258.0" r="3.0" fill="#0000ff"/>
<circle cx="383.6" cy="222.9" r="3.0" fill="#0000ff"/>
<circle cx="383.6" cy="241.5" r="3.0" fill="#0000ff"/>
<circle cx="383.6" cy="244.0" r="3.0" fill="#0000ff"/>
<circle cx="431.7" cy="269.2" r="3.0" fill="#0000ff"/>
<circle cx="443.2" cy="281.0" r="3.0" fill="#0000ff"/>
<text x="261.4" y="309.4" font-size="8.14" text-anchor="start" font-weight="bold" >Slope=0.358, R=0.501, P=0.021</text>
<rect x="471.4" y="1.5" width="205.10000000000002" height="146.6" fill="none" stroke="#000" stroke-width="1.5"/>
<line x1="468.09999999999997" y1="1.5" x2="471.4" y2="1.5" stroke="#000" stroke-width="1.5"/>
<line x1="468.09999999999997" y1="22.44" x2="471.4" y2="22.44" stroke="#000" stroke-width="1.5"/>
<line x1="468.09999999999997" y1="43.38" x2="471.4" y2="43.38" stroke="#000" stroke-width="1.5"/>
<line x1="468.09999999999997" y1="64.32000000000001" x2="471.4" y2="64.32000000000001" stroke="#000" stroke-width="1.5"/>
<line x1="468.09999999999997" y1="85.26" x2="471.4" y2="85.26" stroke="#000" stroke-width="1.5"/>
<line x1="468.09999999999997" y1="106.2" x2="471.4" y2="106.2" stroke="#000" stroke-width="1.5"/>
<line x1="468.09999999999997" y1="127.14000000000001" x2="471.4" y2="127.14000000000001" stroke="#000" stroke-width="1.5"/>
<line x1="468.09999999999997" y1="148.08" x2="471.4" y2="148.08" stroke="#000" stroke-width="1.5"/>
<line x1="483.5" y1="148.1" x2="483.5" y2="151.1" stroke="#000" stroke-width="1.5"/>
<line x1="507.8" y1="148.1" x2="507.8" y2="151.1" stroke="#000" stroke-width="1.5"/>
<line x1="531.8" y1="148.1" x2="531.8" y2="151.1" stroke="#000" stroke-width="1.5"/>
<line x1="556.0" y1="148.1" x2="556.0" y2="151.1" stroke="#000" stroke-width="1.5"/>
<line x1="579.7" y1="148.1" x2="579.7" y2="151.1" stroke="#000" stroke-width="1.5"/>
<line x1="604.1" y1="148.1" x2="604.1" y2="151.1" stroke="#000" stroke-width="1.5"/>
<line x1="628.2" y1="148.1" x2="628.2" y2="151.1" stroke="#000" stroke-width="1.5"/>
<line x1="652.2" y1="148.1" x2="652.2" y2="151.1" stroke="#000" stroke-width="1.5"/>
<line x1="676.0" y1="148.1" x2="676.0" y2="151.1" stroke="#000" stroke-width="1.5"/>
<text x="475.9" y="11.9" font-size="7.8" text-anchor="start" font-weight="bold" >(e)</text>
<polyline points="483.10,79.46 487.62,79.62 492.15,79.78 496.67,79.93 501.19,80.08 505.71,80.21 510.24,80.34 514.76,80.46 519.28,80.56 523.80,80.65 528.33,80.73 532.85,80.78 537.37,80.82 541.89,80.83 546.41,80.82 550.94,80.78 555.46,80.71 559.98,80.61 564.50,80.47 569.03,80.30 573.55,80.09 578.07,79.84 582.60,79.56 587.12,79.24 591.64,78.89 596.16,78.52 600.69,78.11 605.21,77.69 609.73,77.24 614.25,76.77 618.77,76.29 623.30,75.79 627.82,75.28 632.34,74.76 636.87,74.22 641.39,73.68 645.91,73.13 650.43,72.58 654.95,72.02 659.48,71.45 664.00,70.88" fill="none" stroke="#bcbcbc" stroke-width="1.3"/>
<polyline points="483.10,98.74 487.62,98.18 492.15,97.62 496.67,97.07 501.19,96.52 505.71,95.99 510.24,95.46 514.76,94.94 519.28,94.44 523.80,93.95 528.33,93.47 532.85,93.02 537.37,92.58 541.89,92.17 546.41,91.78 550.94,91.42 555.46,91.09 559.98,90.79 564.50,90.53 569.03,90.30 573.55,90.11 578.07,89.96 582.60,89.84 587.12,89.76 591.64,89.71 596.16,89.68 600.69,89.69 605.21,89.71 609.73,89.76 614.25,89.83 618.77,89.91 623.30,90.01 627.82,90.12 632.34,90.24 636.87,90.38 641.39,90.52 645.91,90.67 650.43,90.82 654.95,90.98 659.48,91.15 664.00,91.32" fill="none" stroke="#bcbcbc" stroke-width="1.3"/>
<line x1="483.1" y1="77.3" x2="483.1" y2="98.3" stroke="#ff8a8a" stroke-width="1.0"/>
<line x1="481.0" y1="77.3" x2="485.20000000000005" y2="77.3" stroke="#ff6464" stroke-width="1.0"/>
<line x1="481.0" y1="81.4" x2="485.20000000000005" y2="81.4" stroke="#ff6464" stroke-width="1.0"/>
<line x1="481.0" y1="94.7" x2="485.20000000000005" y2="94.7" stroke="#ff6464" stroke-width="1.0"/>
<line x1="481.0" y1="98.3" x2="485.20000000000005" y2="98.3" stroke="#ff6464" stroke-width="1.0"/>
<line x1="543.9" y1="63.3" x2="543.9" y2="108.0" stroke="#ff8a8a" stroke-width="1.0"/>
<line x1="541.8" y1="63.3" x2="546.0" y2="63.3" stroke="#ff6464" stroke-width="1.0"/>
<line x1="541.8" y1="78.6" x2="546.0" y2="78.6" stroke="#ff6464" stroke-width="1.0"/>
<line x1="541.8" y1="97.1" x2="546.0" y2="97.1" stroke="#ff6464" stroke-width="1.0"/>
<line x1="541.8" y1="108.0" x2="546.0" y2="108.0" stroke="#ff6464" stroke-width="1.0"/>
<line x1="556.0" y1="61.4" x2="556.0" y2="108.0" stroke="#ff8a8a" stroke-width="1.0"/>
<line x1="553.9" y1="61.4" x2="558.1" y2="61.4" stroke="#ff6464" stroke-width="1.0"/>
<line x1="553.9" y1="64.5" x2="558.1" y2="64.5" stroke="#ff6464" stroke-width="1.0"/>
<line x1="553.9" y1="100.0" x2="558.1" y2="100.0" stroke="#ff6464" stroke-width="1.0"/>
<line x1="553.9" y1="108.0" x2="558.1" y2="108.0" stroke="#ff6464" stroke-width="1.0"/>
<line x1="616.2" y1="65.4" x2="616.2" y2="111.3" stroke="#ff8a8a" stroke-width="1.0"/>
<line x1="614.1" y1="65.4" x2="618.3000000000001" y2="65.4" stroke="#ff6464" stroke-width="1.0"/>
<line x1="614.1" y1="111.3" x2="618.3000000000001" y2="111.3" stroke="#ff6464" stroke-width="1.0"/>
<line x1="640.3" y1="66.1" x2="640.3" y2="76.2" stroke="#ff8a8a" stroke-width="1.0"/>
<line x1="638.1999999999999" y1="66.1" x2="642.4" y2="66.1" stroke="#ff6464" stroke-width="1.0"/>
<line x1="638.1999999999999" y1="76.2" x2="642.4" y2="76.2" stroke="#ff6464" stroke-width="1.0"/>
<line x1="652.4" y1="69.0" x2="652.4" y2="96.0" stroke="#ff8a8a" stroke-width="1.0"/>
<line x1="650.3" y1="69.0" x2="654.5" y2="69.0" stroke="#ff6464" stroke-width="1.0"/>
<line x1="650.3" y1="96.0" x2="654.5" y2="96.0" stroke="#ff6464" stroke-width="1.0"/>
<line x1="664.0" y1="51.4" x2="664.0" y2="90.2" stroke="#ff8a8a" stroke-width="1.0"/>
<line x1="661.9" y1="51.4" x2="666.1" y2="51.4" stroke="#ff6464" stroke-width="1.0"/>
<line x1="661.9" y1="90.2" x2="666.1" y2="90.2" stroke="#ff6464" stroke-width="1.0"/>
<line x1="483.1" y1="89.1" x2="664.0" y2="81.1" stroke="#ff0000" stroke-width="1.25"/>
<circle cx="483.1" cy="85.0" r="3.0" fill="#ff0000"/>
<circle cx="483.1" cy="88.6" r="3.0" fill="#ff0000"/>
<circle cx="543.9" cy="85.8" r="3.0" fill="#ff0000"/>
<circle cx="543.9" cy="87.8" r="3.0" fill="#ff0000"/>
<circle cx="556.0" cy="76.6" r="3.0" fill="#ff0000"/>
<circle cx="556.0" cy="86.7" r="3.0" fill="#ff0000"/>
<circle cx="603.7" cy="107.6" r="3.0" fill="#ff0000"/>
<circle cx="616.2" cy="88.3" r="3.0" fill="#ff0000"/>
<circle cx="640.3" cy="71.4" r="3.0" fill="#ff0000"/>
<circle cx="652.4" cy="82.8" r="3.0" fill="#ff0000"/>
<circle cx="664.0" cy="70.7" r="3.0" fill="#ff0000"/>
<text x="481.4" y="143.8" font-size="8.0" text-anchor="start" font-weight="bold" >Slope=0.136, R=0.325, P=0.278</text>
<rect x="471.8" y="167.5" width="204.59999999999997" height="147.0" fill="none" stroke="#000" stroke-width="1.5"/>
<line x1="468.5" y1="167.5" x2="471.8" y2="167.5" stroke="#000" stroke-width="1.5"/>
<line x1="468.5" y1="192.0" x2="471.8" y2="192.0" stroke="#000" stroke-width="1.5"/>
<line x1="468.5" y1="216.5" x2="471.8" y2="216.5" stroke="#000" stroke-width="1.5"/>
<line x1="468.5" y1="241.0" x2="471.8" y2="241.0" stroke="#000" stroke-width="1.5"/>
<line x1="468.5" y1="265.5" x2="471.8" y2="265.5" stroke="#000" stroke-width="1.5"/>
<line x1="468.5" y1="290.0" x2="471.8" y2="290.0" stroke="#000" stroke-width="1.5"/>
<line x1="468.5" y1="314.5" x2="471.8" y2="314.5" stroke="#000" stroke-width="1.5"/>
<line x1="483.8" y1="314.5" x2="483.8" y2="317.5" stroke="#000" stroke-width="1.5"/>
<line x1="508.0" y1="314.5" x2="508.0" y2="317.5" stroke="#000" stroke-width="1.5"/>
<line x1="532.0" y1="314.5" x2="532.0" y2="317.5" stroke="#000" stroke-width="1.5"/>
<line x1="555.9" y1="314.5" x2="555.9" y2="317.5" stroke="#000" stroke-width="1.5"/>
<line x1="580.0" y1="314.5" x2="580.0" y2="317.5" stroke="#000" stroke-width="1.5"/>
<line x1="604.1" y1="314.5" x2="604.1" y2="317.5" stroke="#000" stroke-width="1.5"/>
<line x1="628.2" y1="314.5" x2="628.2" y2="317.5" stroke="#000" stroke-width="1.5"/>
<line x1="652.2" y1="314.5" x2="652.2" y2="317.5" stroke="#000" stroke-width="1.5"/>
<line x1="676.2" y1="314.5" x2="676.2" y2="317.5" stroke="#000" stroke-width="1.5"/>
<text x="483.8" y="331.3" font-size="8.9" text-anchor="middle" font-weight="bold" >2000</text>
<text x="508.0" y="331.3" font-size="8.9" text-anchor="middle" font-weight="bold" >2002</text>
<text x="532.0" y="331.3" font-size="8.9" text-anchor="middle" font-weight="bold" >2004</text>
<text x="555.9" y="331.3" font-size="8.9" text-anchor="middle" font-weight="bold" >2006</text>
<text x="580.0" y="331.3" font-size="8.9" text-anchor="middle" font-weight="bold" >2008</text>
<text x="604.1" y="331.3" font-size="8.9" text-anchor="middle" font-weight="bold" >2010</text>
<text x="628.2" y="331.3" font-size="8.9" text-anchor="middle" font-weight="bold" >2012</text>
<text x="652.2" y="331.3" font-size="8.9" text-anchor="middle" font-weight="bold" >2014</text>
<text x="676.2" y="331.3" font-size="8.9" text-anchor="middle" font-weight="bold" >2016</text>
<text x="476.4" y="179.0" font-size="7.8" text-anchor="start" font-weight="bold" >(f)</text>
<polyline points="483.80,246.19 488.32,246.18 492.84,246.16 497.35,246.13 501.87,246.08 506.39,246.03 510.91,245.96 515.42,245.88 519.94,245.78 524.46,245.66 528.98,245.52 533.49,245.37 538.01,245.20 542.53,245.01 547.04,244.81 551.56,244.59 556.08,244.36 560.60,244.11 565.12,243.85 569.63,243.58 574.15,243.30 578.67,243.02 583.18,242.72 587.70,242.42 592.22,242.12 596.74,241.81 601.25,241.49 605.77,241.17 610.29,240.85 614.81,240.52 619.33,240.20 623.84,239.87 628.36,239.53 632.88,239.20 637.39,238.86 641.91,238.52 646.43,238.18 650.95,237.84 655.47,237.50 659.98,237.16 664.50,236.81" fill="none" stroke="#bcbcbc" stroke-width="1.3"/>
<polyline points="483.80,252.81 488.32,252.53 492.84,252.25 497.35,251.99 501.87,251.74 506.39,251.50 510.91,251.27 515.42,251.06 519.94,250.86 524.46,250.69 528.98,250.53 533.49,250.38 538.01,250.26 542.53,250.15 547.04,250.06 551.56,249.98 556.08,249.92 560.60,249.88 565.12,249.84 569.63,249.81 574.15,249.80 578.67,249.79 583.18,249.79 587.70,249.79 592.22,249.80 596.74,249.82 601.25,249.84 605.77,249.86 610.29,249.89 614.81,249.92 619.33,249.95 623.84,249.99 628.36,250.03 632.88,250.07 637.39,250.11 641.91,250.15 646.43,250.20 650.95,250.24 655.47,250.29 659.98,250.34 664.50,250.39" fill="none" stroke="#bcbcbc" stroke-width="1.3"/>
<line x1="483.8" y1="214.1" x2="483.8" y2="296.2" stroke="#8080ff" stroke-width="1.0"/>
<line x1="481.7" y1="214.1" x2="485.90000000000003" y2="214.1" stroke="#6464ff" stroke-width="1.0"/>
<line x1="481.7" y1="227.5" x2="485.90000000000003" y2="227.5" stroke="#6464ff" stroke-width="1.0"/>
<line x1="481.7" y1="229.0" x2="485.90000000000003" y2="229.0" stroke="#6464ff" stroke-width="1.0"/>
<line x1="481.7" y1="233.5" x2="485.90000000000003" y2="233.5" stroke="#6464ff" stroke-width="1.0"/>
<line x1="481.7" y1="277.2" x2="485.90000000000003" y2="277.2" stroke="#6464ff" stroke-width="1.0"/>
<line x1="481.7" y1="279.0" x2="485.90000000000003" y2="279.0" stroke="#6464ff" stroke-width="1.0"/>
<line x1="481.7" y1="296.2" x2="485.90000000000003" y2="296.2" stroke="#6464ff" stroke-width="1.0"/>
<line x1="495.6" y1="265.8" x2="495.6" y2="277.2" stroke="#8080ff" stroke-width="1.0"/>
<line x1="493.5" y1="265.8" x2="497.70000000000005" y2="265.8" stroke="#6464ff" stroke-width="1.0"/>
<line x1="493.5" y1="277.2" x2="497.70000000000005" y2="277.2" stroke="#6464ff" stroke-width="1.0"/>
<line x1="507.9" y1="229.3" x2="507.9" y2="260.5" stroke="#8080ff" stroke-width="1.0"/>
<line x1="505.79999999999995" y1="229.3" x2="510.0" y2="229.3" stroke="#6464ff" stroke-width="1.0"/>
<line x1="505.79999999999995" y1="260.5" x2="510.0" y2="260.5" stroke="#6464ff" stroke-width="1.0"/>
<line x1="520.0" y1="248.0" x2="520.0" y2="283.0" stroke="#8080ff" stroke-width="1.0"/>
<line x1="517.9" y1="283.0" x2="522.1" y2="283.0" stroke="#6464ff" stroke-width="1.0"/>
<line x1="531.8" y1="232.7" x2="531.8" y2="268" stroke="#8080ff" stroke-width="1.0"/>
<line x1="529.6999999999999" y1="232.7" x2="533.9" y2="232.7" stroke="#6464ff" stroke-width="1.0"/>
<line x1="543.9" y1="218.6" x2="543.9" y2="271.3" stroke="#8080ff" stroke-width="1.0"/>
<line x1="541.8" y1="258.0" x2="546.0" y2="258.0" stroke="#6464ff" stroke-width="1.0"/>
<line x1="541.8" y1="266.7" x2="546.0" y2="266.7" stroke="#6464ff" stroke-width="1.0"/>
<line x1="541.8" y1="271.3" x2="546.0" y2="271.3" stroke="#6464ff" stroke-width="1.0"/>
<line x1="555.9" y1="213.1" x2="555.9" y2="279.4" stroke="#8080ff" stroke-width="1.0"/>
<line x1="553.8" y1="213.1" x2="558.0" y2="213.1" stroke="#6464ff" stroke-width="1.0"/>
<line x1="553.8" y1="222.2" x2="558.0" y2="222.2" stroke="#6464ff" stroke-width="1.0"/>
<line x1="553.8" y1="279.4" x2="558.0" y2="279.4" stroke="#6464ff" stroke-width="1.0"/>
<line x1="568.0" y1="231.2" x2="568.0" y2="277.2" stroke="#8080ff" stroke-width="1.0"/>
<line x1="565.9" y1="231.2" x2="570.1" y2="231.2" stroke="#6464ff" stroke-width="1.0"/>
<line x1="565.9" y1="277.2" x2="570.1" y2="277.2" stroke="#6464ff" stroke-width="1.0"/>
<line x1="580.1" y1="211.4" x2="580.1" y2="241.3" stroke="#8080ff" stroke-width="1.0"/>
<line x1="578.0" y1="211.4" x2="582.2" y2="211.4" stroke="#6464ff" stroke-width="1.0"/>
<line x1="578.0" y1="241.3" x2="582.2" y2="241.3" stroke="#6464ff" stroke-width="1.0"/>
<line x1="604.3" y1="227.5" x2="604.3" y2="272.2" stroke="#8080ff" stroke-width="1.0"/>
<line x1="602.1999999999999" y1="227.5" x2="606.4" y2="227.5" stroke="#6464ff" stroke-width="1.0"/>
<line x1="602.1999999999999" y1="248.2" x2="606.4" y2="248.2" stroke="#6464ff" stroke-width="1.0"/>
<line x1="602.1999999999999" y1="265.4" x2="606.4" y2="265.4" stroke="#6464ff" stroke-width="1.0"/>
<line x1="602.1999999999999" y1="272.2" x2="606.4" y2="272.2" stroke="#6464ff" stroke-width="1.0"/>
<line x1="616.3" y1="199.1" x2="616.3" y2="271.2" stroke="#8080ff" stroke-width="1.0"/>
<line x1="614.1999999999999" y1="199.1" x2="618.4" y2="199.1" stroke="#6464ff" stroke-width="1.0"/>
<line x1="614.1999999999999" y1="265.4" x2="618.4" y2="265.4" stroke="#6464ff" stroke-width="1.0"/>
<line x1="614.1999999999999" y1="271.2" x2="618.4" y2="271.2" stroke="#6464ff" stroke-width="1.0"/>
<line x1="640.4" y1="228.4" x2="640.4" y2="264.1" stroke="#8080ff" stroke-width="1.0"/>
<line x1="638.3" y1="228.4" x2="642.5" y2="228.4" stroke="#6464ff" stroke-width="1.0"/>
<line x1="638.3" y1="248.7" x2="642.5" y2="248.7" stroke="#6464ff" stroke-width="1.0"/>
<line x1="638.3" y1="264.1" x2="642.5" y2="264.1" stroke="#6464ff" stroke-width="1.0"/>
<line x1="652.2" y1="234.4" x2="652.2" y2="265.4" stroke="#8080ff" stroke-width="1.0"/>
<line x1="650.1" y1="234.4" x2="654.3000000000001" y2="234.4" stroke="#6464ff" stroke-width="1.0"/>
<line x1="650.1" y1="265.4" x2="654.3000000000001" y2="265.4" stroke="#6464ff" stroke-width="1.0"/>
<line x1="664.5" y1="218.4" x2="664.5" y2="262.6" stroke="#8080ff" stroke-width="1.0"/>
<line x1="662.4" y1="218.4" x2="666.6" y2="218.4" stroke="#6464ff" stroke-width="1.0"/>
<line x1="662.4" y1="241.3" x2="666.6" y2="241.3" stroke="#6464ff" stroke-width="1.0"/>
<line x1="662.4" y1="249.4" x2="666.6" y2="249.4" stroke="#6464ff" stroke-width="1.0"/>
<line x1="662.4" y1="262.6" x2="666.6" y2="262.6" stroke="#6464ff" stroke-width="1.0"/>
<line x1="483.8" y1="249.5" x2="664.5" y2="243.6" stroke="#0000ff" stroke-width="1.25"/>
<circle cx="483.8" cy="237.8" r="2.75" fill="#0000ff"/>
<circle cx="483.8" cy="240.5" r="2.75" fill="#0000ff"/>
<circle cx="483.8" cy="243.0" r="2.75" fill="#0000ff"/>
<circle cx="483.8" cy="245.5" r="2.75" fill="#0000ff"/>
<circle cx="483.8" cy="248.0" r="2.75" fill="#0000ff"/>
<circle cx="483.8" cy="250.5" r="2.75" fill="#0000ff"/>
<circle cx="483.8" cy="253.0" r="2.75" fill="#0000ff"/>
<circle cx="483.8" cy="256.0" r="2.75" fill="#0000ff"/>
<circle cx="483.8" cy="260.5" r="2.75" fill="#0000ff"/>
<circle cx="483.8" cy="264.5" r="2.75" fill="#0000ff"/>
<circle cx="483.8" cy="268.5" r="2.75" fill="#0000ff"/>
<circle cx="483.8" cy="272.0" r="2.75" fill="#0000ff"/>
<circle cx="495.6" cy="271.6" r="2.75" fill="#0000ff"/>
<circle cx="507.9" cy="244.4" r="2.75" fill="#0000ff"/>
<circle cx="520.0" cy="265.4" r="2.75" fill="#0000ff"/>
<circle cx="531.8" cy="240.3" r="2.75" fill="#0000ff"/>
<circle cx="531.8" cy="243" r="2.75" fill="#0000ff"/>
<circle cx="531.8" cy="246" r="2.75" fill="#0000ff"/>
<circle cx="531.8" cy="249" r="2.75" fill="#0000ff"/>
<circle cx="531.8" cy="252" r="2.75" fill="#0000ff"/>
<circle cx="531.8" cy="254.5" r="2.75" fill="#0000ff"/>
<circle cx="531.8" cy="257.7" r="2.75" fill="#0000ff"/>
<circle cx="531.8" cy="262.2" r="2.75" fill="#0000ff"/>
<circle cx="531.8" cy="265.8" r="2.75" fill="#0000ff"/>
<circle cx="543.9" cy="218.3" r="2.75" fill="#0000ff"/>
<circle cx="543.9" cy="221.2" r="2.75" fill="#0000ff"/>
<circle cx="543.9" cy="229.6" r="2.75" fill="#0000ff"/>
<circle cx="543.9" cy="232" r="2.75" fill="#0000ff"/>
<circle cx="543.9" cy="234.5" r="2.75" fill="#0000ff"/>
<circle cx="543.9" cy="237" r="2.75" fill="#0000ff"/>
<circle cx="543.9" cy="239.5" r="2.75" fill="#0000ff"/>
<circle cx="543.9" cy="242" r="2.75" fill="#0000ff"/>
<circle cx="543.9" cy="244.5" r="2.75" fill="#0000ff"/>
<circle cx="543.9" cy="247" r="2.75" fill="#0000ff"/>
<circle cx="543.9" cy="249.5" r="2.75" fill="#0000ff"/>
<circle cx="543.9" cy="252" r="2.75" fill="#0000ff"/>
<circle cx="543.9" cy="254" r="2.75" fill="#0000ff"/>
<circle cx="555.9" cy="230.3" r="2.75" fill="#0000ff"/>
<circle cx="555.9" cy="233" r="2.75" fill="#0000ff"/>
<circle cx="555.9" cy="235.5" r="2.75" fill="#0000ff"/>
<circle cx="555.9" cy="238" r="2.75" fill="#0000ff"/>
<circle cx="555.9" cy="241" r="2.75" fill="#0000ff"/>
<circle cx="555.9" cy="243.5" r="2.75" fill="#0000ff"/>
<circle cx="555.9" cy="246" r="2.75" fill="#0000ff"/>
<circle cx="555.9" cy="248.6" r="2.75" fill="#0000ff"/>
<circle cx="555.9" cy="252.2" r="2.75" fill="#0000ff"/>
<circle cx="555.9" cy="263.1" r="2.75" fill="#0000ff"/>
<circle cx="555.9" cy="265.3" r="2.75" fill="#0000ff"/>
<circle cx="555.9" cy="273.6" r="2.75" fill="#0000ff"/>
<circle cx="568.0" cy="243.9" r="2.75" fill="#0000ff"/>
<circle cx="568.0" cy="265.8" r="2.75" fill="#0000ff"/>
<circle cx="580.1" cy="226.2" r="2.75" fill="#0000ff"/>
<circle cx="604.3" cy="239.3" r="2.75" fill="#0000ff"/>
<circle cx="604.3" cy="256.3" r="2.75" fill="#0000ff"/>
<circle cx="604.3" cy="260.3" r="2.75" fill="#0000ff"/>
<circle cx="616.3" cy="232.0" r="2.75" fill="#0000ff"/>
<circle cx="616.3" cy="252.7" r="2.75" fill="#0000ff"/>
<circle cx="640.4" cy="235.8" r="2.75" fill="#0000ff"/>
<circle cx="640.4" cy="256.7" r="2.75" fill="#0000ff"/>
<circle cx="652.2" cy="249.4" r="2.75" fill="#0000ff"/>
<circle cx="664.5" cy="229.9" r="2.75" fill="#0000ff"/>
<circle cx="664.5" cy="256.3" r="2.75" fill="#0000ff"/>
<text x="481.4" y="306.1" font-size="7.7" text-anchor="start" font-weight="bold" >Slope=0.083, R=0.143, P=0.185</text>
<text transform="translate(6.9,75.8) rotate(-90)" font-size="9.4" font-weight="bold" text-anchor="middle">&#948;<tspan font-size="6.2" dy="-3.2">15</tspan><tspan dy="3.2">N</tspan><tspan font-size="6.2" dy="2.2">w-NO3-</tspan><tspan dy="-2.2"> values / &#8240;</tspan></text>
<text transform="translate(7.0,238.8) rotate(-90)" font-size="10" font-weight="bold" text-anchor="middle">&#948;<tspan font-size="6.4" dy="-3.4">15</tspan><tspan dy="3.4">N</tspan><tspan font-size="6.0" dy="2.4">w </tspan><tspan font-size="7.0">NO3</tspan><tspan dy="-2.4"> values / &#8240;</tspan></text>
</svg>
</body></html>
